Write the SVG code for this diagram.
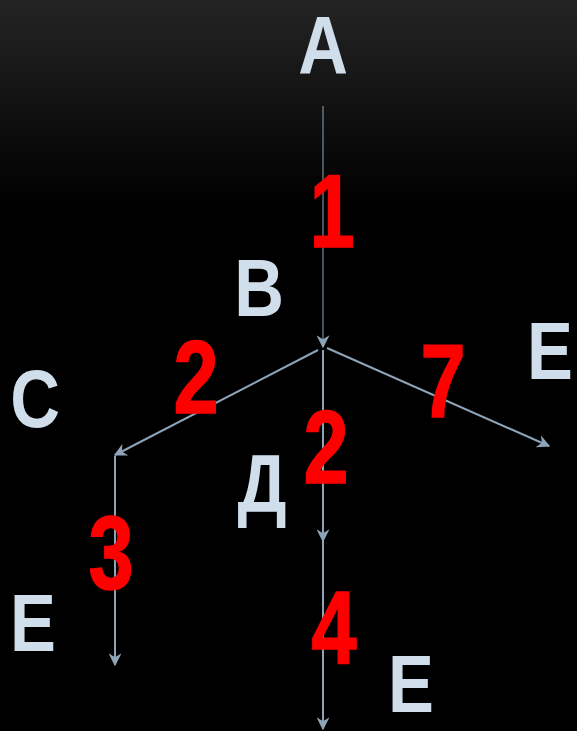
<svg xmlns="http://www.w3.org/2000/svg" width="577" height="731" viewBox="0 0 577 731">
<defs>
<linearGradient id="bg" x1="0" y1="0" x2="0" y2="1">
<stop offset="0" stop-color="#242424"/>
<stop offset="0.28" stop-color="#000000"/>
<stop offset="1" stop-color="#000000"/>
</linearGradient>
<marker id="arr" viewBox="0 0 10 10" refX="9" refY="5" markerWidth="13" markerHeight="13" markerUnits="userSpaceOnUse" orient="auto">
<path d="M0,0 L10,5 L0,10 L3,5 Z" fill="#8ea4b8"/>
</marker>
</defs>
<style>
.lbl{font-family:"Liberation Sans",Arial,sans-serif;font-weight:bold;font-size:82px;fill:#cfdeea;text-anchor:middle}
.num{font-family:"Liberation Sans",Arial,sans-serif;font-weight:bold;font-size:104px;fill:#ff0000;stroke:#ff0000;stroke-width:1.5;text-anchor:middle}
.ln{stroke:#8ea4b8;stroke-width:2;fill:none;marker-end:url(#arr)}
</style>
<rect width="577" height="731" fill="url(#bg)"/>
<g id="connectors">
<line class="ln" x1="323" y1="106" x2="323" y2="347" style="stroke-width:1"/>
<line class="ln" x1="318" y1="350" x2="115" y2="455"/>
<line class="ln" x1="327" y1="348" x2="549" y2="446"/>
<line class="ln" x1="323" y1="350" x2="323" y2="541"/>
<line class="ln" x1="323" y1="541" x2="323" y2="729"/>
<line class="ln" x1="115" y1="456" x2="115" y2="665"/>
</g>
<g id="node-A"><text class="lbl" transform="translate(323,73) scale(0.84,1)">A</text></g>
<g id="node-B"><text class="lbl" transform="translate(259,316) scale(0.84,1)">B</text></g>
<g id="node-C"><text class="lbl" transform="translate(35,427) scale(0.84,1)">C</text></g>
<g id="node-E1"><text class="lbl" transform="translate(550,379) scale(0.84,1)">E</text></g>
<g id="node-D"><text class="lbl" transform="translate(262,512) scale(0.84,1)">Д</text></g>
<g id="node-E2"><text class="lbl" transform="translate(33,651) scale(0.84,1)">E</text></g>
<g id="node-E3"><text class="lbl" transform="translate(411,712) scale(0.84,1)">E</text></g>
<g id="weights">
<text class="num" transform="translate(332,247) scale(0.78,1)">1</text>
<text class="num" transform="translate(196,413) scale(0.78,1)">2</text>
<text class="num" transform="translate(443,417) scale(0.78,1)">7</text>
<text class="num" transform="translate(326,483) scale(0.78,1)">2</text>
<text class="num" transform="translate(111,589) scale(0.78,1)">3</text>
<text class="num" transform="translate(334,664) scale(0.78,1)">4</text>
</g>
</svg>
